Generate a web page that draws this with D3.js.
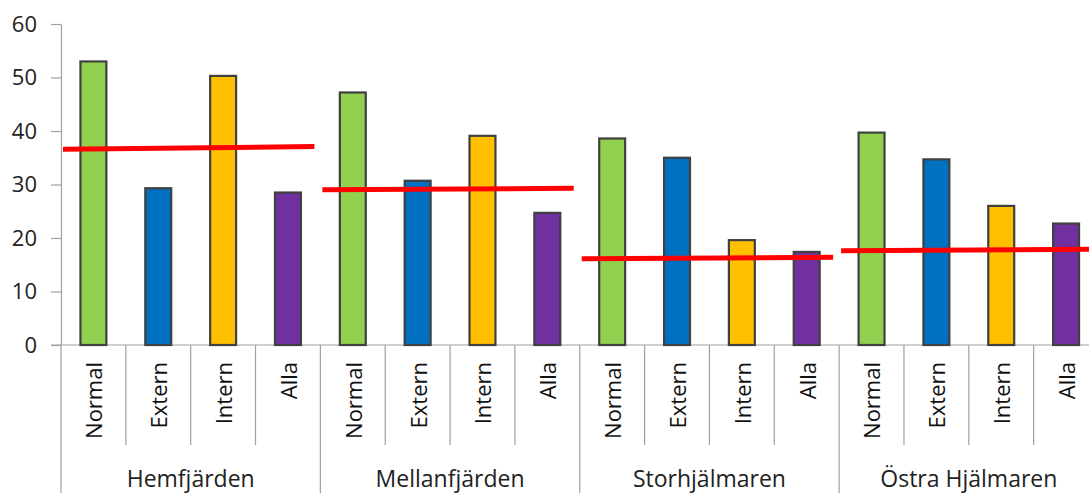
<!DOCTYPE html>
<html>
<head>
<meta charset="utf-8">
<script src="https://cdn.jsdelivr.net/npm/d3@7"></script>
<style>
  html, body { margin: 0; padding: 0; background: #fff; }
  svg { display: block; font-family: 'Open Sans', sans-serif; }
</style>
</head>
<body>
<div id="chart"></div>
<script>
// lakes (groups) and sample types (categories)
const groups = ['Hemfjärden', 'Mellanfjärden', 'Storhjälmaren', 'Östra Hjälmaren'];
const categories = ['Normal', 'Extern', 'Intern', 'Alla'];

// bar values per group, in category order
const valuesHemfjarden    = [53.0, 29.3, 50.3, 28.5];
const valuesMellanfjarden = [47.2, 30.7, 39.1, 24.7];
const valuesStorhjalmaren = [38.6, 35.0, 19.6, 17.4];
const valuesOstra         = [39.7, 34.7, 26.0, 22.7];
const seriesValues = [valuesHemfjarden, valuesMellanfjarden, valuesStorhjalmaren, valuesOstra];

// red reference line per group: [left end, right end]
const refLines = [[36.6, 37.1], [29.0, 29.3], [16.1, 16.4], [17.6, 17.9]];

const yTicks = [0, 10, 20, 30, 40, 50, 60];

const COLORS = {
  Normal: '#92d050',
  Extern: '#0070c0',
  Intern: '#ffc000',
  Alla:   '#7030a0',
};

const W = 1089, H = 493;
const axisX = 61, rightX = 1098.5;
const y0 = 345, yTop = 24;

const rows = [];
groups.forEach((g, gi) => {
  categories.forEach((c, ci) => {
    rows.push({ group: g, cat: c, key: `${g}|${c}`, value: seriesValues[gi][ci] });
  });
});

const svg = d3.select('#chart').append('svg')
  .attr('width', W).attr('height', H);

const x = d3.scaleBand()
  .domain(rows.map(d => d.key))
  .range([axisX, rightX])
  .paddingInner(0.6)
  .paddingOuter(0.3);

const xg = d3.scaleBand()
  .domain(groups)
  .range([axisX, rightX]);

const y = d3.scaleLinear().domain([0, 60]).range([y0, yTop]);

// Y axis
svg.append('g')
  .attr('transform', `translate(${axisX},0)`)
  .call(d3.axisLeft(y).tickValues(yTicks).tickSize(10).tickSizeOuter(0).tickPadding(14))
  .call(ax => ax.select('.domain').attr('stroke', '#a0a0a0').attr('stroke-width', 1.2))
  .call(ax => ax.selectAll('line').attr('stroke', '#a0a0a0').attr('stroke-width', 1.2))
  .call(ax => ax.selectAll('text')
    .attr('font-family', "'Open Sans', sans-serif")
    .attr('font-size', 22).attr('fill', '#222'));

// baseline
svg.append('line')
  .attr('x1', axisX - 10).attr('x2', rightX)
  .attr('y1', y0).attr('y2', y0)
  .attr('stroke', '#a0a0a0').attr('stroke-width', 1.2);

// category separators (short) and group separators (full height)
const inner = [];
groups.forEach(g => {
  for (let i = 1; i < categories.length; i++) inner.push(xg(g) + i * xg.bandwidth() / categories.length);
});
svg.append('g').selectAll('line')
  .data(inner)
  .join('line')
  .attr('x1', d => d).attr('x2', d => d)
  .attr('y1', y0).attr('y2', 445)
  .attr('stroke', '#a0a0a0').attr('stroke-width', 1.2);

svg.append('g').selectAll('line')
  .data(groups.concat(['end']))
  .join('line')
  .attr('x1', d => d === 'end' ? rightX : xg(d))
  .attr('x2', d => d === 'end' ? rightX : xg(d))
  .attr('y1', y0).attr('y2', H)
  .attr('stroke', '#a0a0a0').attr('stroke-width', 1.2);

// Bars
svg.append('g').selectAll('rect')
  .data(rows)
  .join('rect')
  .attr('x', d => x(d.key))
  .attr('y', d => y(d.value))
  .attr('width', x.bandwidth())
  .attr('height', d => y(0) - y(d.value))
  .attr('fill', d => COLORS[d.cat])
  .attr('stroke', '#404040')
  .attr('stroke-width', 2.2);

// Red reference lines
svg.append('g').selectAll('line')
  .data(groups)
  .join('line')
  .attr('x1', d => xg(d) + 2)
  .attr('x2', d => xg(d) + xg.bandwidth() - 6)
  .attr('y1', (d, i) => y(refLines[i][0]))
  .attr('y2', (d, i) => y(refLines[i][1]))
  .attr('stroke', '#ff0000')
  .attr('stroke-width', 5);

// Rotated category labels
svg.append('g').selectAll('text')
  .data(rows)
  .join('text')
  .attr('transform', d => `translate(${x(d.key) + x.bandwidth() / 2 + 1},362) rotate(-90)`)
  .attr('text-anchor', 'end')
  .attr('dy', '0.36em')
  .attr('font-size', 22)
  .attr('fill', '#111')
  .text(d => d.cat);

// Group labels
svg.append('g').selectAll('text')
  .data(groups)
  .join('text')
  .attr('x', d => xg(d) + xg.bandwidth() / 2)
  .attr('y', 487)
  .attr('text-anchor', 'middle')
  .attr('font-size', 23)
  .attr('fill', '#222')
  .text(d => d);
</script>
</body>
</html>
